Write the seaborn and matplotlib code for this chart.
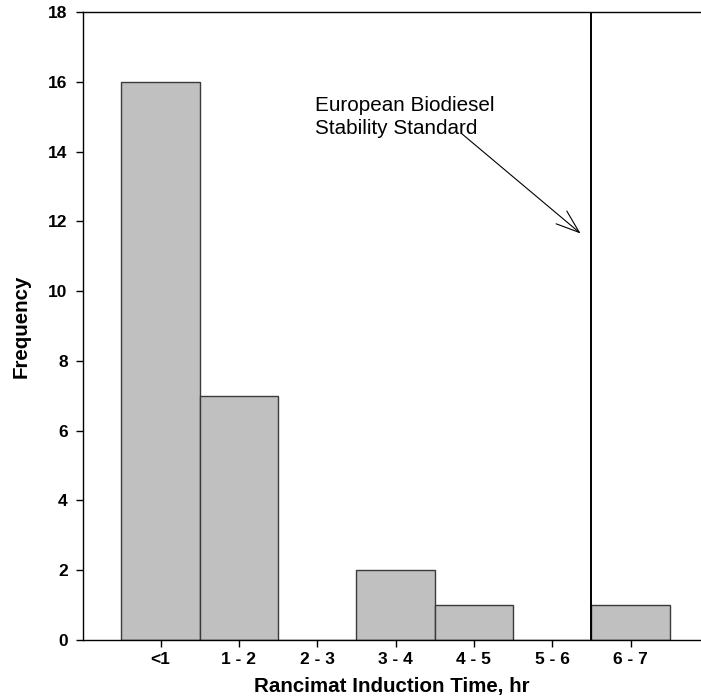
import matplotlib
matplotlib.use("Agg")
import matplotlib.pyplot as plt
import seaborn as sns
import pandas as pd

# Histogram of Rancimat induction times
bins = ["<1", "1 - 2", "2 - 3", "3 - 4", "4 - 5", "5 - 6", "6 - 7"]
frequency = [16, 7, 0, 2, 1, 0, 1]
standard_position = 5.5  # boundary between the 5 - 6 and 6 - 7 bins
y_ticks = list(range(0, 19, 2))

sns.set_theme(style="white")
plt.rcParams["font.family"] = ["Liberation Sans", "DejaVu Sans"]
plt.rcParams["axes.labelcolor"] = "black"
plt.rcParams["text.color"] = "black"

df = pd.DataFrame({"bin": bins, "count": frequency})

fig = plt.figure(figsize=(7.01, 7.00), dpi=100)
ax = fig.add_axes([83 / 701, 60 / 700, 1 - 83 / 701, 628 / 700])

sns.barplot(data=df, x="bin", y="count", order=bins, color="#c0c0c0",
            saturation=1, width=1.0, edgecolor="#3a3a3a", linewidth=1.0, ax=ax)

ax.set_xlim(-0.99, 6.9)
ax.set_ylim(0, 18)
ax.set_yticks(y_ticks)

for side in ("left", "bottom", "top"):
    ax.spines[side].set_visible(True)
    ax.spines[side].set_color("black")
    ax.spines[side].set_linewidth(1.0)
ax.spines["right"].set_visible(False)

ax.tick_params(axis="both", direction="out", length=5, width=1, colors="black",
               labelsize=12.5)
ax.tick_params(axis="x", bottom=True, pad=4)
ax.tick_params(axis="y", left=True, pad=6)
for lab in ax.get_xticklabels() + ax.get_yticklabels():
    lab.set_fontweight("bold")

ax.set_xlabel("Rancimat Induction Time, hr", fontsize=14.8, fontweight="bold",
              labelpad=7, color="black")
ax.set_ylabel("Frequency", fontsize=14.8, fontweight="bold", labelpad=13, color="black")

ax.axvline(standard_position, color="black", linewidth=1.4)

ax.annotate("", xy=(5.39, 11.6), xytext=(3.82, 14.56),
            arrowprops=dict(arrowstyle="->,head_length=1.4,head_width=0.5",
                            color="black", linewidth=0.8))
ax.text(1.97, 14.5, "European Biodiesel\nStability Standard", fontsize=14.9,
        ha="left", va="baseline", linespacing=1.3, color="black")

fig.savefig("out.png", dpi=100)
